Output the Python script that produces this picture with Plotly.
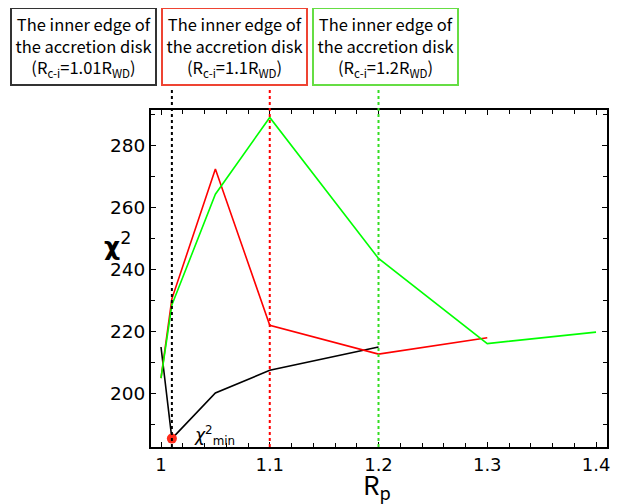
import plotly.graph_objects as go

# Data
rp_black = [1.0, 1.01, 1.05, 1.1, 1.2]
chi_black = [215.0, 185.5, 200.2, 207.5, 215.0]

rp_red = [1.0, 1.01, 1.05, 1.1, 1.2, 1.3]
chi_red = [205.0, 230.5, 272.3, 222.0, 212.7, 218.0]

rp_green = [1.0, 1.01, 1.05, 1.1, 1.2, 1.3, 1.4]
chi_green = [205.0, 228.5, 264.2, 288.9, 243.5, 216.1, 219.8]

chi_min_x = [1.01]
chi_min_y = [185.5]

edge_positions = [1.01, 1.1, 1.2]
edge_labels = ["1.01", "1.1", "1.2"]
edge_colors = ["black", "#ff0000", "#33dd22"]
box_colors = ["#333333", "#ee4433", "#66dd44"]

FONT = "Noto Sans CJK JP"
TICKFONT = "DejaVu Sans"

# The page body has an 8px margin, so the figure sits at (8, 8).
OFF = 8
W, H = 619 - OFF, 504 - OFF
L, R, T, B = 151 - OFF, 12, 110 - OFF, 57
PW, PH = W - L - R, H - T - B


def px2paper_x(px):
    return (px - OFF - L) / PW


def px2paper_y(py):
    return (H - B - (py - OFF)) / PH


fig = go.Figure()
fig.add_trace(go.Scatter(x=rp_black, y=chi_black, mode="lines",
                         line=dict(color="black", width=1.6), showlegend=False))
fig.add_trace(go.Scatter(x=rp_red, y=chi_red, mode="lines",
                         line=dict(color="#ff0000", width=1.6), showlegend=False))
fig.add_trace(go.Scatter(x=rp_green, y=chi_green, mode="lines",
                         line=dict(color="#00ff00", width=1.6), showlegend=False))
fig.add_trace(go.Scatter(x=chi_min_x, y=chi_min_y, mode="markers",
                         marker=dict(color="#ff2a1a", size=10), showlegend=False))

shapes = []
annotations = []
box_centers = [83.5, 234.5, 385]
for xp, lab, c, bc, cx in zip(edge_positions, edge_labels, edge_colors, box_colors, box_centers):
    shapes.append(dict(type="line", xref="x", yref="paper", x0=xp, x1=xp, y0=0,
                       y1=px2paper_y(88),
                       line=dict(color=c, width=2, dash="dot"), layer="above"))
    annotations.append(dict(
        xref="paper", yref="paper",
        x=px2paper_x(cx), y=px2paper_y(46.5),
        xanchor="center", yanchor="middle",
        text=f"The inner edge of<br>the accretion disk<br>(R<sub>c-i</sub>={lab}R<sub>WD</sub>)",
        showarrow=False, align="center",
        font=dict(family=FONT, size=16.5, color="black"),
        bordercolor=bc, borderwidth=2, borderpad=2,
        width=139, height=71,
    ))

# chi^2_min label
annotations.append(dict(
    x=1.01, y=185.5, xref="x", yref="y", xanchor="left", yanchor="middle",
    xshift=20, yshift=3,
    text="<i>χ</i><sup>2</sup><sub>min</sub>", showarrow=False,
    font=dict(family=TICKFONT, size=17, color="black"),
))

# axis titles
annotations.append(dict(
    xref="paper", yref="paper", x=px2paper_x(117), y=px2paper_y(245),
    xanchor="center", yanchor="middle",
    text="<b>χ</b><sup>2</sup>", showarrow=False,
    font=dict(family=TICKFONT, size=25, color="black"),
))
annotations.append(dict(
    xref="paper", yref="paper", x=px2paper_x(377), y=px2paper_y(485),
    xanchor="center", yanchor="middle",
    text="R<sub>p</sub>", showarrow=False,
    font=dict(family=FONT, size=26, color="black"),
))

fig.update_layout(
    width=W, height=H,
    margin=dict(l=L, r=R, t=T, b=B),
    paper_bgcolor="white", plot_bgcolor="white",
    shapes=shapes, annotations=annotations,
    font=dict(family=FONT, color="black"),
    xaxis=dict(
        range=[0.9908, 1.4101], dtick=0.1, tick0=1.0,
        ticks="inside", ticklen=5, tickwidth=1.2, tickcolor="black",
        minor=dict(dtick=0.02, tick0=1.0, ticks="inside", ticklen=4, tickcolor="black"),
        showline=True, linecolor="black", linewidth=2, mirror="ticks",
        showgrid=False, zeroline=False, automargin=False,
        tickfont=dict(family=TICKFONT, size=18, color="black"),
    ),
    yaxis=dict(
        range=[182.8, 291.3], dtick=20, tick0=200,
        ticks="inside", ticklen=5, tickwidth=1.2, tickcolor="black",
        minor=dict(dtick=10, tick0=200, ticks="inside", ticklen=4, tickcolor="black"),
        showline=True, linecolor="black", linewidth=2, mirror="ticks",
        showgrid=False, zeroline=False, automargin=False,
        tickfont=dict(family=TICKFONT, size=18.5, color="black"),
    ),
)

fig.write_html("out.html")
